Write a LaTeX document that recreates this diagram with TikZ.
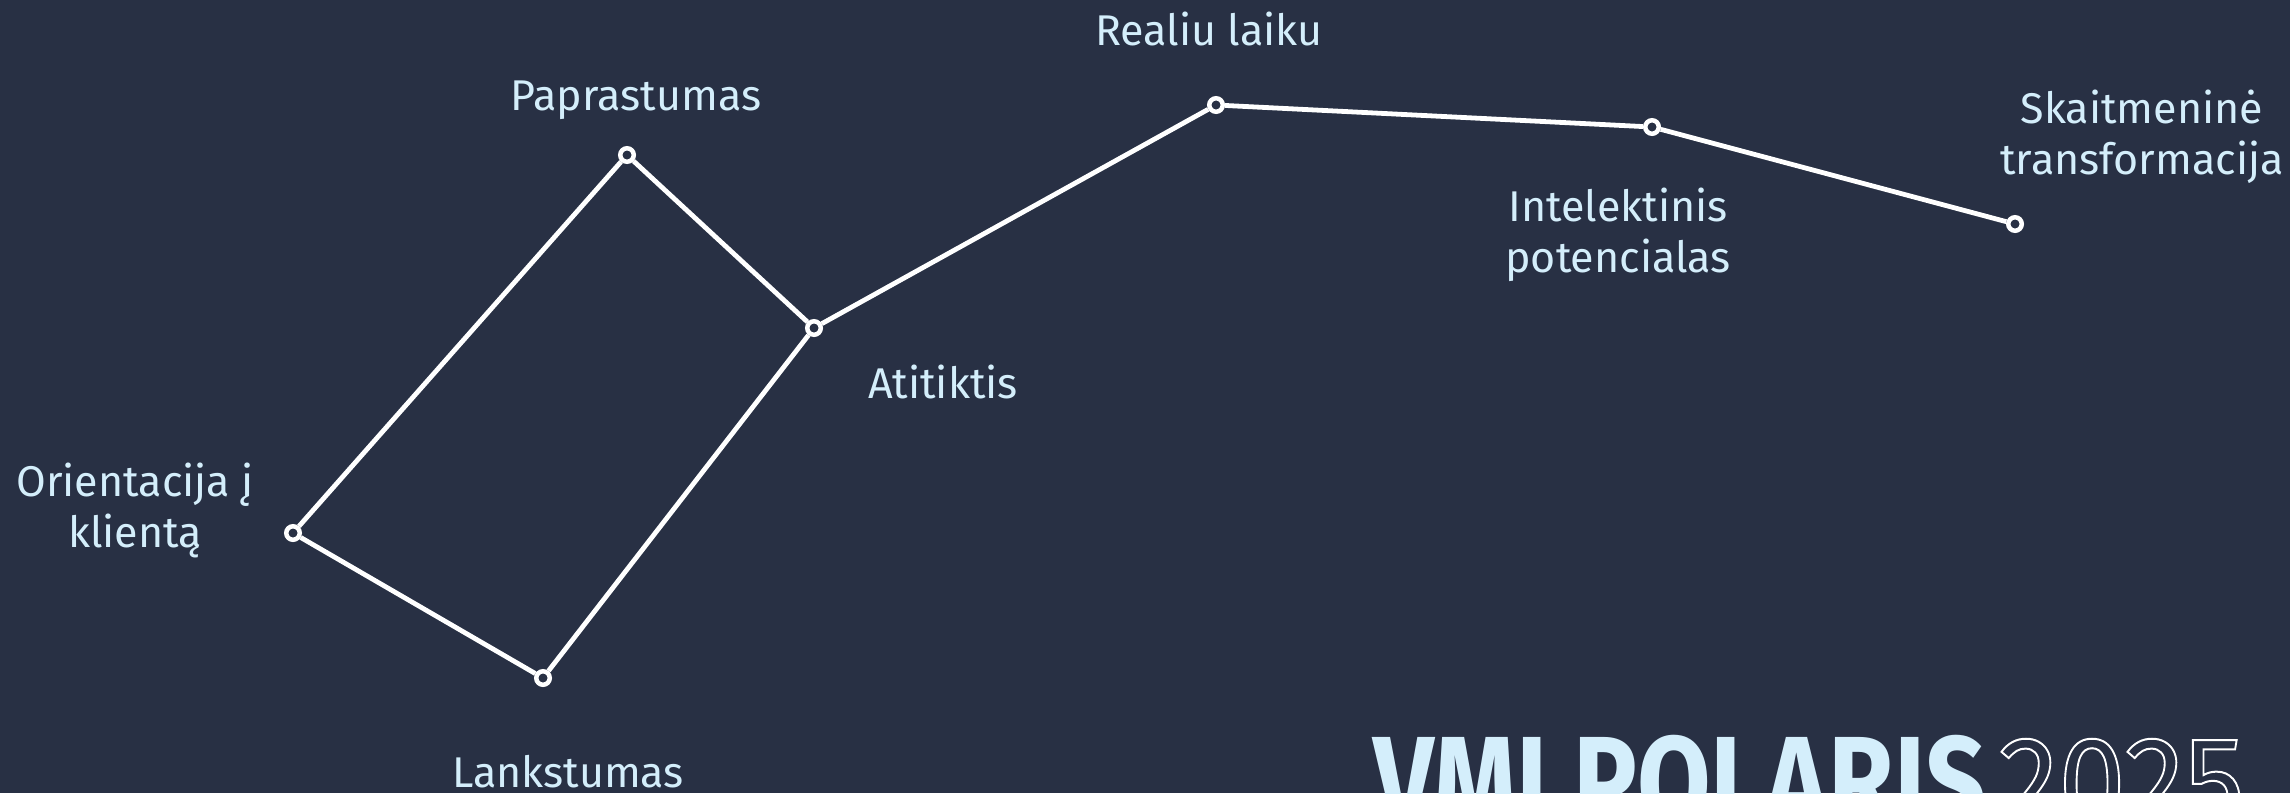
\documentclass[tikz,border=0pt]{standalone}
\usepackage{fontspec}
\setmainfont{Fira Sans}
\definecolor{bg}{HTML}{283044}
\definecolor{lbl}{HTML}{D4EEFB}
\newcommand{\outlinetext}[1]{\special{pdf:literal direct 1 Tr 2 w}#1\special{pdf:literal direct 0 Tr}}
\begin{document}
\begin{tikzpicture}[x=1pt,y=-1pt,
  dot/.style={circle,draw=white,fill=bg,line width=4.5pt,minimum size=13.5pt,inner sep=0pt},
  link/.style={draw=white,line width=4.8pt},
  lab/.style={text=lbl,font=\fontsize{43}{51}\selectfont,inner sep=0pt,align=center}]
\useasboundingbox (0,0) rectangle (2290,793);
\fill[bg] (0,0) rectangle (2290,793);
\clip (0,0) rectangle (2290,793);
% stars
\node[dot] (papr) at (627,155) {};
\node[dot] (atit) at (814,328) {};
\node[dot] (real) at (1216,105) {};
\node[dot] (intel) at (1652,127) {};
\node[dot] (skait) at (2015,224) {};
\node[dot] (orient) at (293,533) {};
\node[dot] (lank) at (543,678) {};
% links
\draw[link] (orient) -- (papr);
\draw[link] (papr) -- (atit);
\draw[link] (atit) -- (lank);
\draw[link] (lank) -- (orient);
\draw[link] (atit) -- (real);
\draw[link] (real) -- (intel);
\draw[link] (intel) -- (skait);
% labels
\node[lab,anchor=base] (lpapr) at (636,110) {Paprastumas};
\node[lab,anchor=base] (lreal) at (1209,45) {Realiu laiku};
\node[lab,anchor=base] (latit) at (943,398) {Atitiktis};
\node[lab,anchor=base] (llank) at (568,787) {Lankstumas};
\node[lab] (lintel) at (1618,235) {Intelektinis\\potencialas};
\node[lab] (lskait) at (2142,137) {Skaitmeninė\\transformacija};
\node[lab] (lorient) at (135,510) {Orientacija į\\klientą};
% title
\node[anchor=base west,inner sep=0pt,text=lbl] (title) at (1373,827)
  {\fontsize{130}{130}\selectfont\scalebox{0.82}[1]{\bfseries VMI POLARIS}\hspace{12pt}\scalebox{0.93}[1]{\mdseries\color{white}\outlinetext{2025}}};
\end{tikzpicture}
\end{document}
